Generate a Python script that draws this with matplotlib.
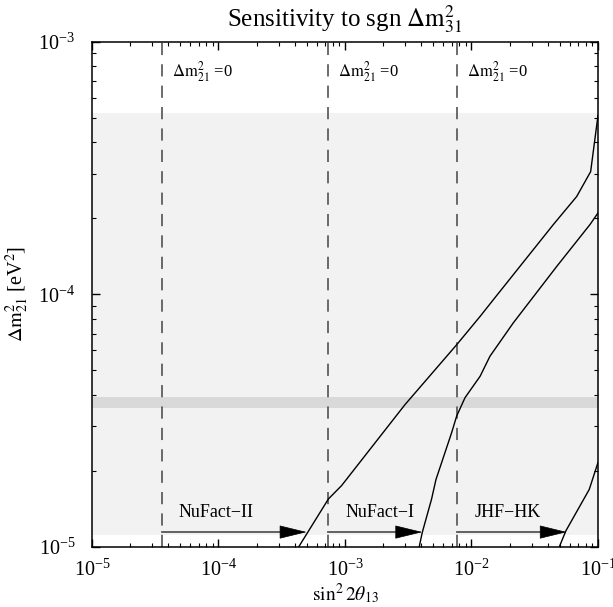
import matplotlib
matplotlib.use("Agg")
import matplotlib.pyplot as plt
from matplotlib.ticker import LogLocator, NullFormatter

plt.rcParams["font.family"] = ["Liberation Serif", "DejaVu Serif"]
plt.rcParams["mathtext.fontset"] = "stix"

# curves: (sin^2 2theta13, dm21^2)
nf2_x = [4.3e-4, 7.4e-4, 9.4e-4, 2.98e-3, 7.64e-3, 1.17e-2, 1.49e-2, 4.44e-2, 6.79e-2, 8.75e-2, 0.1]
nf2_y = [1.0e-5, 1.55e-5, 1.75e-5, 3.66e-5, 6.32e-5, 8.18e-5, 9.53e-5, 1.89e-4, 2.44e-4, 3.06e-4, 5.1e-4]
nf1_x = [3.86e-3, 4.08e-3, 4.84e-3, 5.24e-3, 6.96e-3, 7.64e-3, 8.89e-3, 1.17e-2, 1.4e-2, 2.14e-2, 4.72e-2, 8.65e-2, 0.1]
nf1_y = [1.0e-5, 1.14e-5, 1.55e-5, 1.85e-5, 2.83e-5, 3.3e-5, 3.9e-5, 4.74e-5, 5.69e-5, 7.71e-5, 1.29e-4, 1.89e-4, 2.1e-4]
jhf_x = [4.94e-2, 5.58e-2, 8.53e-2, 0.1]
jhf_y = [1.0e-5, 1.16e-5, 1.69e-5, 2.16e-5]

curves = [(nf2_x, nf2_y), (nf1_x, nf1_y), (jhf_x, jhf_y)]

# dm21 = 0 limits and where the arrows end
zero_limits = [3.56e-5, 7.36e-4, 7.75e-3]
arrow_tips = [4.97e-4, 4.08e-3, 5.66e-2]
exp_names = ["NuFact\u2212II", "NuFact\u2212I", "JHF\u2212HK"]

# LMA bands
lma_band = (1.12e-5, 5.2e-4)
best_band = (3.56e-5, 3.91e-5)

arrow_y = 1.146e-5
name_y = 1.32e-5
zero_label_y = 7.3e-4

fig = plt.figure(figsize=(6.13, 6.07), dpi=100)
ax = fig.add_axes([0.150, 0.0988, 0.8255, 0.8325])
ax.set_xscale("log")
ax.set_yscale("log")
ax.set_xlim(1e-5, 1e-1)
ax.set_ylim(1e-5, 1e-3)

ax.axhspan(*lma_band, color="#f2f2f2", lw=0, zorder=0)
ax.axhspan(*best_band, color="#d9d9d9", lw=0, zorder=0.5)

for xz in zero_limits:
    ax.axvline(xz, color="#444444", lw=1.1, dashes=(8, 6), zorder=1)
    ax.text(xz * 1.2, zero_label_y, r"$\Delta\mathrm{m}^2_{21}$ =0", fontsize=12,
            va="baseline", ha="left")

for xz, tip, name in zip(zero_limits, arrow_tips, exp_names):
    head_base = tip / 10 ** 0.198
    ax.plot([xz, head_base], [arrow_y, arrow_y], color="#555555", lw=1.3, zorder=2)
    ax.annotate("", xy=(tip, arrow_y), xytext=(head_base, arrow_y),
                arrowprops=dict(arrowstyle="-|>,head_length=0.9,head_width=0.22",
                                color="black", lw=0.5, shrinkA=0, shrinkB=0,
                                mutation_scale=20), zorder=3)
    ax.text(xz * 1.37, name_y, name, fontsize=13, va="baseline", ha="left")

for cx, cy in curves:
    ax.plot(cx, cy, color="black", lw=1.0, zorder=4)

for s in ax.spines.values():
    s.set_linewidth(1.1)

ax.xaxis.set_major_locator(LogLocator(base=10, numticks=10))
ax.yaxis.set_major_locator(LogLocator(base=10, numticks=10))
ax.xaxis.set_minor_locator(LogLocator(base=10, subs=range(2, 10), numticks=10))
ax.yaxis.set_minor_locator(LogLocator(base=10, subs=range(2, 10), numticks=10))
ax.xaxis.set_minor_formatter(NullFormatter())
ax.yaxis.set_minor_formatter(NullFormatter())
ax.tick_params(which="both", direction="in", top=True, right=True, labelsize=14.5)
ax.tick_params(axis="x", which="major", length=6, width=1.0, pad=9)
ax.tick_params(axis="y", which="major", length=6, width=1.0, pad=12)
ax.tick_params(which="minor", length=3, width=0.8)

ax.set_title(r"Sensitivity to sgn $\Delta\mathrm{m}^2_{31}$", fontsize=18, pad=11)
ax.set_xlabel(r"$\sin^2 2\theta_{13}$", fontsize=14, labelpad=0)
ax.set_ylabel(r"$\Delta\mathrm{m}^2_{21}$ [eV$^2$]", fontsize=14.5, labelpad=5)

fig.savefig("out.png", dpi=100)
